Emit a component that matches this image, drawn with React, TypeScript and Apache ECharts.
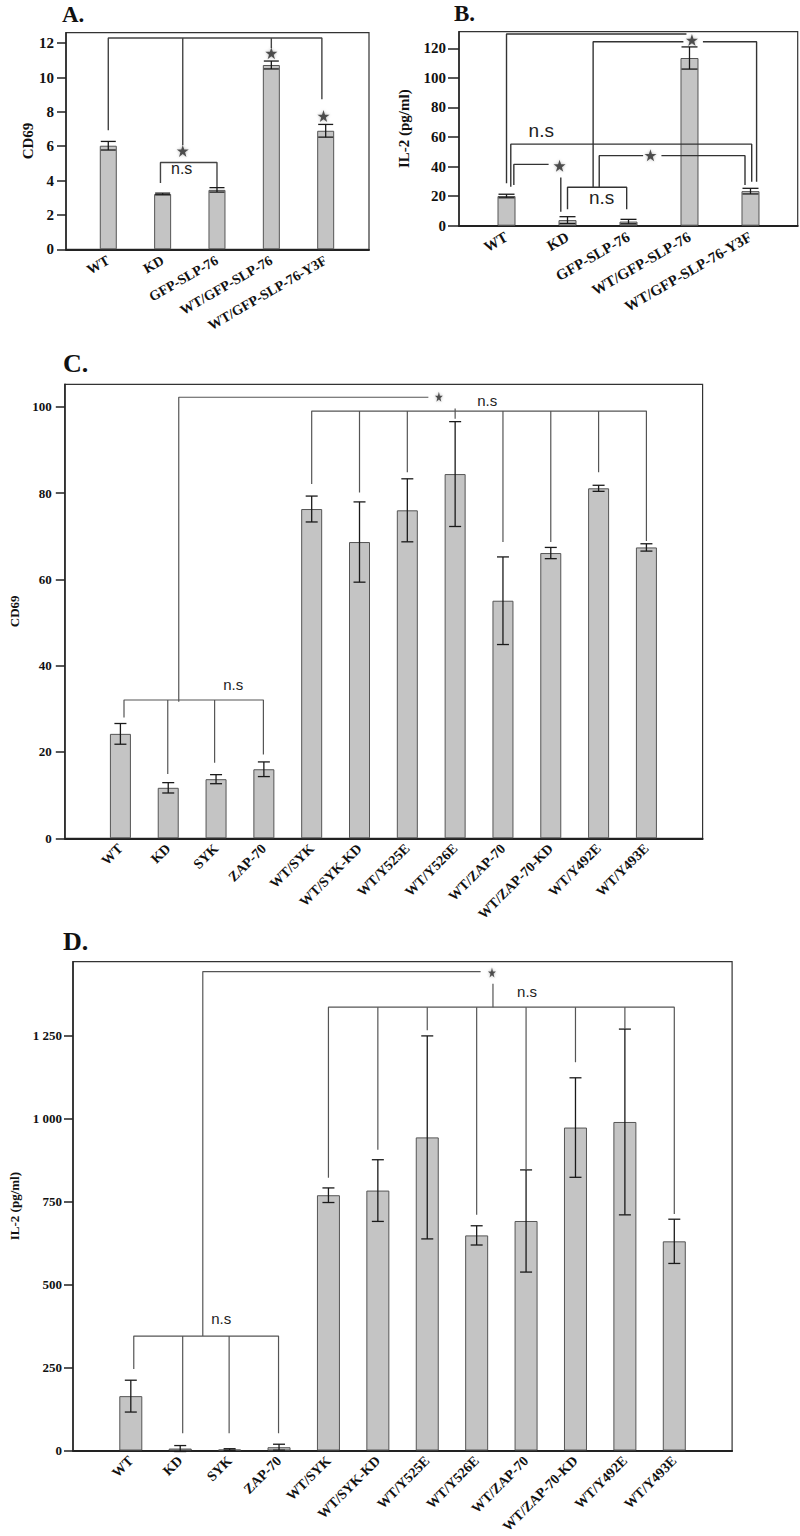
import React, { useEffect, useRef } from 'react';
import * as echarts from 'echarts';

// ---------- Panel A (CD69) ----------
const abCategories = ['WT', 'KD', 'GFP-SLP-76', 'WT/GFP-SLP-76', 'WT/GFP-SLP-76-Y3F'];
const aValues = [6.03, 3.22, 3.46, 10.73, 6.9];
const aErrors = [0.25, 0.05, 0.13, 0.23, 0.37];
const aYTicks = [0, 2, 4, 6, 8, 10, 12];
const aBrackets = [
  [[0, 6.93], [0, 12.3], [3.93, 12.3], [3.93, 8.74]],
  [[1.37, 6.06], [1.37, 12.3]],
  [[3.0, 11.72], [3.0, 12.3]],
  [[0.96, 3.86], [0.96, 5.05], [2.0, 5.05], [2.0, 3.63]],
];
const aStars = [[1.37, 5.73], [3.0, 11.42], [3.96, 7.76]];
const aNs = [[1.35, 4.68]];

// ---------- Panel B (IL-2) ----------
const bValues = [20.1, 3.8, 2.8, 113.5, 23.4];
const bErrors = [1.2, 2.3, 1.5, 7.5, 1.9];
const bYTicks = [0, 20, 40, 60, 80, 100, 120];
const bBrackets = [
  [[0, 28.7], [0, 129.7], [2.95, 129.7]],
  [[1.42, 26], [1.42, 124.5], [2.9, 124.5]],
  [[3.22, 124.5], [4.1, 124.5], [4.1, 29.8]],
  [[0.07, 26.4], [0.07, 55.2], [4.02, 55.2], [4.02, 29.8]],
  [[0.12, 27.5], [0.12, 41.5], [0.69, 41.5]],
  [[0.89, 32.7], [0.89, 9.5]],
  [[1.0, 11.1], [1.0, 26], [1.97, 26], [1.97, 11.1]],
  [[1.52, 26], [1.52, 47.4], [2.24, 47.4]],
  [[2.54, 47.4], [3.91, 47.4], [3.91, 27.5]],
];
const bStars = [[3.04, 125.6], [0.87, 40.6], [2.36, 47.6]];
const bNs = [[0.57, 64.1], [1.56, 19]];

// ---------- Panels C and D ----------
const cdCategories = ['WT', 'KD', 'SYK', 'ZAP-70', 'WT/SYK', 'WT/SYK-KD', 'WT/Y525E', 'WT/Y526E', 'WT/ZAP-70', 'WT/ZAP-70-KD', 'WT/Y492E', 'WT/Y493E'];

const cValues = [24.2, 11.7, 13.7, 16.0, 76.3, 68.65, 76.0, 84.4, 55.05, 66.1, 81.1, 67.4];
const cErrors = [2.4, 1.2, 1.05, 1.7, 3.0, 9.3, 7.3, 12.15, 10.15, 1.3, 0.7, 0.85];
const cYTicks = [0, 20, 40, 60, 80, 100];
const cBrackets = [
  [[1.22, 31.65], [1.22, 102.2], [6.44, 102.2]],
  [[4, 82.1], [4, 99], [11, 99], [11, 68.9]],
  [[5, 80.1], [5, 99]],
  [[6, 84.8], [6, 99]],
  [[7, 97.2], [7, 99.6]],
  [[8, 68.65], [8, 99]],
  [[9, 68.65], [9, 99]],
  [[10, 84.8], [10, 99]],
  [[0.075, 28], [0.075, 32.05], [2.99, 32.05], [2.99, 19.4]],
  [[0.99, 14.9], [0.99, 32.05]],
  [[1.97, 17.5], [1.97, 32.05]],
];
const cStars = [[6.66, 102.3]];
const cNs = [[7.67, 101.4], [2.36, 35.75]];

const dValues = [164, 6, 3, 10, 769.7, 783.7, 944, 648.6, 692, 973.7, 990.5, 630.7];
const dErrors = [48, 9, 2.5, 9, 22, 93, 306, 29, 154, 150, 280, 66.7];
const dYTicks = [0, 250, 500, 750, 1000, 1250];
const dBrackets = [
  [[1.457, 345.2], [1.457, 1444], [7.08, 1444]],
  [[7.33, 1336.5], [7.33, 1407]],
  [[4, 822.5], [4, 1336.5], [11, 1336.5], [11, 713]],
  [[5, 907], [5, 1336.5]],
  [[6, 1267], [6, 1336.5]],
  [[7, 711], [7, 1336.5]],
  [[8, 846], [8, 1336.5]],
  [[9, 1170.6], [9, 1336.5]],
  [[10, 1271], [10, 1336.5]],
  [[0.06, 245.8], [0.06, 345.2], [2.99, 345.2], [2.99, 52]],
  [[1.05, 52], [1.05, 345.2]],
  [[1.99, 52], [1.99, 345.2]],
];
const dStars = [[7.31, 1441]];
const dNs = [[8.02, 1382.5], [1.83, 398]];

const STAR = 'path://M50,0 L61.8,35.1 L98.1,35.1 L68.8,56.7 L79.4,90.9 L50,69.9 L20.6,90.9 L31.2,56.7 L1.9,35.1 L38.2,35.1 Z';
const SERIF = "'Liberation Serif', 'Times New Roman', serif";
const SANS = "'Liberation Sans', Arial, sans-serif";

type PanelCfg = {
  categories: string[];
  values: number[];
  errors: number[];
  yTicks: number[];
  brackets: number[][][];
  stars: number[][];
  ns: number[][];
  grid: { left: number; top: number; width: number; height: number };
  xMin: number;
  xMax: number;
  yMax: number;
  barWidth: number;
  capWidth: number;
  rotate: number;
  xLabelSize: number;
  xLabelMargin: number;
  yLabelSize: number;
  yLabelMargin: number;
  tickLen: number;
  yName: string;
  yNameSize: number;
  nameGap: number;
  starSize: number | number[];
  nsSize: number;
  lineColor: string;
  lineWidth: number;
  yFormatter?: (v: number) => string;
};

function buildPanel(i: number, c: PanelCfg) {
  const grid = {
    left: c.grid.left,
    top: c.grid.top,
    width: c.grid.width,
    height: c.grid.height,
    show: true,
    borderColor: '#333',
    borderWidth: 1.2,
    backgroundColor: 'transparent',
  };
  const xAxis = {
    type: 'value',
    gridIndex: i,
    min: c.xMin,
    max: c.xMax,
    axisLine: { show: true, onZero: false, lineStyle: { color: '#222', width: 2 } },
    axisTick: { show: false },
    splitLine: { show: false },
    axisLabel: {
      customValues: c.categories.map((_, k) => k),
      formatter: (v: number) => c.categories[Math.round(v)] ?? '',
      rotate: c.rotate,
      margin: c.xLabelMargin,
      fontFamily: SERIF,
      fontWeight: 'bold',
      fontSize: c.xLabelSize,
      color: '#111',
    },
  };
  const yAxis = {
    type: 'value',
    gridIndex: i,
    min: 0,
    max: c.yMax,
    axisLine: { show: true, onZero: false, lineStyle: { color: '#222', width: 1.5 } },
    axisTick: { show: true, length: c.tickLen, customValues: c.yTicks, lineStyle: { color: '#222', width: 1.5 } },
    splitLine: { show: false },
    axisLabel: {
      customValues: c.yTicks,
      margin: c.yLabelMargin,
      fontFamily: SERIF,
      fontWeight: 'bold',
      fontSize: c.yLabelSize,
      color: '#111',
      formatter: c.yFormatter ?? ((v: number) => String(v)),
    },
    name: c.yName,
    nameLocation: 'middle',
    nameGap: c.nameGap,
    nameTextStyle: { fontFamily: SERIF, fontWeight: 'bold', fontSize: c.yNameSize, color: '#111' },
  };
  const half = c.capWidth / 2;
  const series: any[] = [
    {
      type: 'bar',
      xAxisIndex: i,
      yAxisIndex: i,
      data: c.values.map((v, k) => [k, v]),
      barWidth: c.barWidth,
      itemStyle: { color: '#c4c4c4', borderColor: '#555', borderWidth: 1 },
      z: 2,
    },
    {
      type: 'custom',
      xAxisIndex: i,
      yAxisIndex: i,
      data: c.values.map((v, k) => [k, v - c.errors[k], v + c.errors[k]]),
      encode: { x: 0, y: [1, 2] },
      z: 3,
      renderItem: (_p: any, api: any) => {
        const x = api.value(0);
        const hi = api.coord([x, api.value(2)]);
        const lo = api.coord([x, api.value(1)]);
        const st = { stroke: '#1a1a1a', lineWidth: 1.3 };
        return {
          type: 'group',
          children: [
            { type: 'line', shape: { x1: hi[0], y1: hi[1], x2: lo[0], y2: lo[1] }, style: st },
            { type: 'line', shape: { x1: hi[0] - half, y1: hi[1], x2: hi[0] + half, y2: hi[1] }, style: st },
            { type: 'line', shape: { x1: lo[0] - half, y1: lo[1], x2: lo[0] + half, y2: lo[1] }, style: st },
          ],
        };
      },
    },
  ];
  c.brackets.forEach((b) => {
    series.push({
      type: 'line',
      xAxisIndex: i,
      yAxisIndex: i,
      data: b,
      symbol: 'none',
      silent: true,
      lineStyle: { color: c.lineColor, width: c.lineWidth },
      z: 4,
    });
  });
  series.push({
    type: 'scatter',
    xAxisIndex: i,
    yAxisIndex: i,
    data: c.stars,
    symbol: STAR,
    symbolSize: c.starSize,
    itemStyle: { color: '#2a2a2a', shadowBlur: 3, shadowColor: 'rgba(0,0,0,0.35)' },
    z: 5,
  });
  series.push({
    type: 'custom',
    xAxisIndex: i,
    yAxisIndex: i,
    data: c.ns,
    encode: { x: 0, y: 1 },
    z: 5,
    renderItem: (_p: any, api: any) => {
      const p = api.coord([api.value(0), api.value(1)]);
      return {
        type: 'text',
        x: p[0],
        y: p[1],
        style: {
          text: 'n.s',
          fontFamily: SANS,
          fontSize: c.nsSize,
          fill: '#222',
          align: 'center',
          verticalAlign: 'middle',
        },
      };
    },
  });
  return { grid, xAxis, yAxis, series };
}

const spaceThousands = (v: number) => String(v).replace(/\B(?=(\d{3})+(?!\d))/g, ' ');

export default function App() {
  const ref = useRef<HTMLDivElement>(null);
  useEffect(() => {
    if (!ref.current) return;
    const chart = echarts.init(ref.current, undefined, { renderer: 'svg' });
    const panels = [
      buildPanel(0, {
        categories: abCategories, values: aValues, errors: aErrors, yTicks: aYTicks,
        brackets: aBrackets, stars: aStars, ns: aNs,
        grid: { left: 66, top: 32.7, width: 303, height: 216.6 },
        xMin: -0.778, xMax: 4.797, yMax: 12.61, barWidth: 17, capWidth: 15,
        rotate: 30, xLabelSize: 14, xLabelMargin: 10, yLabelSize: 15, yLabelMargin: 12, tickLen: 9,
        yName: 'CD69', yNameSize: 15, nameGap: 30, starSize: 12, nsSize: 16,
        lineColor: '#444', lineWidth: 1.4,
      }),
      buildPanel(1, {
        categories: abCategories, values: bValues, errors: bErrors, yTicks: bYTicks,
        brackets: bBrackets, stars: bStars, ns: bNs,
        grid: { left: 459, top: 31.7, width: 338.7, height: 194 },
        xMin: -0.779, xMax: 4.774, yMax: 131.3, barWidth: 18, capWidth: 16,
        rotate: 30, xLabelSize: 15, xLabelMargin: 10, yLabelSize: 15, yLabelMargin: 13, tickLen: 11,
        yName: 'IL-2 (pg/ml)', yNameSize: 15, nameGap: 48, starSize: 12, nsSize: 19,
        lineColor: '#333', lineWidth: 1.4,
      }),
      buildPanel(2, {
        categories: cdCategories, values: cValues, errors: cErrors, yTicks: cYTicks,
        brackets: cBrackets, stars: cStars, ns: cNs,
        grid: { left: 64.8, top: 384.3, width: 637.8, height: 454 },
        xMin: -1.163, xMax: 12.175, yMax: 105.2, barWidth: 21, capWidth: 12,
        rotate: 45, xLabelSize: 14, xLabelMargin: 8, yLabelSize: 13, yLabelMargin: 13, tickLen: 9,
        yName: 'CD69', yNameSize: 13, nameGap: 42, starSize: [8, 10], nsSize: 15,
        lineColor: '#555', lineWidth: 1.2,
      }),
      buildPanel(3, {
        categories: cdCategories, values: dValues, errors: dErrors, yTicks: dYTicks,
        brackets: dBrackets, stars: dStars, ns: dNs,
        grid: { left: 63.8, top: 961.7, width: 668.3, height: 494 },
        xMin: -1.17, xMax: 12.17, yMax: 1473.7, barWidth: 23, capWidth: 12,
        rotate: 45, xLabelSize: 14, xLabelMargin: 8, yLabelSize: 13, yLabelMargin: 11, tickLen: 9,
        yName: 'IL-2 (pg/ml)', yNameSize: 13, nameGap: 52, starSize: [8, 10], nsSize: 15,
        lineColor: '#555', lineWidth: 1.2, yFormatter: spaceThousands,
      }),
    ];
    const titleStyle = (text: string, size: number) => ({
      text, fontFamily: SERIF, fontWeight: 'bold', fontSize: size, fill: '#111',
      verticalAlign: 'middle', align: 'left',
    });
    chart.setOption({
      animation: false,
      backgroundColor: '#fff',
      grid: panels.map((p) => p.grid),
      xAxis: panels.map((p) => p.xAxis),
      yAxis: panels.map((p) => p.yAxis),
      series: panels.flatMap((p) => p.series),
      graphic: [
        { type: 'text', left: 62, top: 3, style: titleStyle('A.', 23) },
        { type: 'text', left: 454, top: 2, style: titleStyle('B.', 23) },
        { type: 'text', left: 63, top: 350, style: titleStyle('C.', 26) },
        { type: 'text', left: 63, top: 928, style: titleStyle('D.', 26) },
      ],
    });
    return () => chart.dispose();
  }, []);
  return <div ref={ref} style={{ position: 'absolute', left: 0, top: 0, width: 800, height: 1536 }} />;
}
